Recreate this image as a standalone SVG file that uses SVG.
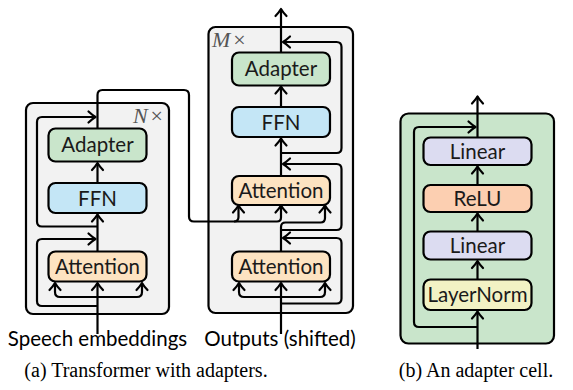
<svg xmlns="http://www.w3.org/2000/svg" width="573" height="390" viewBox="0 0 573 390">
<defs>
<marker id="ah" markerUnits="userSpaceOnUse" markerWidth="16" markerHeight="16" viewBox="-9 -8 11 16" refX="0" refY="0" orient="auto-start-reverse">
<path d="M-7,-5.5 Q-2.8,-1.6 0,0 Q-2.8,1.6 -7,5.5" fill="none" stroke="#000" stroke-width="2.2" stroke-linecap="round" stroke-linejoin="round"/>
</marker>
</defs>
<style>
.grp{fill:#f2f2f2;stroke:#000;stroke-width:2.2}
.cell{fill:#c9e5cb;stroke:#000;stroke-width:2.2}
.box{stroke:#000;stroke-width:2.2}
.adp{fill:#c9e5cb}
.ffn{fill:#c4e6f6}
.att{fill:#fde3c1}
.lin{fill:#dcdcf1}
.relu{fill:#fccfb1}
.ln{fill:#f2f2c4}
.t{font-family:Lato,"Liberation Sans",sans-serif;font-size:20.5px;fill:#1a1a1a;text-anchor:middle}
.lbl{font-family:Lato,"Liberation Sans",sans-serif;font-size:20.5px;fill:#000;text-anchor:middle}
.cap{font-family:"Liberation Serif",serif;font-size:20px;fill:#000;text-anchor:middle}
.rep{font-family:"Liberation Serif",serif;font-size:22px;fill:#555}
.c{fill:none;stroke:#000;stroke-width:2.2;stroke-linejoin:round}
.a{marker-end:url(#ah)}
.ab{marker-start:url(#ah);marker-end:url(#ah)}
</style>

<g id="encoder-block">
<rect class="grp" x="26" y="103" width="143" height="211" rx="7"/>
<text class="rep" x="163" y="123" text-anchor="end"><tspan font-style="italic">N</tspan><tspan dx="3">×</tspan></text>
</g>
<g id="decoder-block">
<rect class="grp" x="208.5" y="27" width="144.5" height="286" rx="7"/>
<text class="rep" x="212" y="47"><tspan font-style="italic">M</tspan><tspan dx="3">×</tspan></text>
</g>
<g id="adapter-cell">
<rect class="cell" x="400.5" y="113.5" width="153.5" height="230" rx="8"/>
</g>

<g id="connectors">
<!-- encoder -->
<path class="c a" d="M97.5,334 V283"/>
<path class="c ab" d="M55,283 V292 Q55,297 60,297 H137 Q142,297 142,292 V283"/>
<path class="c a" d="M97.5,306 H42 Q37,306 37,301 V244 Q37,239 42,239 H95.5"/>
<path class="c a" d="M97.5,251.5 V214.5"/>
<path class="c a" d="M97.5,226.5 H42 Q37,226.5 37,221.5 V122 Q37,117 42,117 H95.5"/>
<path class="c a" d="M97.5,183 V163"/>
<path class="c a" d="M97.5,128.5 V95 Q97.5,90 102.5,90 H184 Q189,90 189,95 V216.5 Q189,221.5 194,221.5 H277 Q281,221.5 281,217.5 V205.5"/>
<path class="c a" d="M234,221.5 Q238.5,221.5 238.5,217 V205.5"/>
<!-- decoder -->
<path class="c a" d="M281,334 V283"/>
<path class="c ab" d="M239,283 V292 Q239,297 244,297 H320 Q325,297 325,292 V283"/>
<path class="c a" d="M281,303.5 H336.5 Q341.5,303.5 341.5,298.5 V243 Q341.5,238 336.5,238 H283"/>
<path class="c a" d="M281,251.5 V227 Q281,222.5 285.5,222.5 H320.5 Q325,222.5 325,218 V205.5"/>
<path class="c a" d="M281,230 H336.5 Q341.5,230 341.5,225 V169 Q341.5,164 336.5,164 H283"/>
<path class="c a" d="M281,176 V138.5"/>
<path class="c a" d="M281,153 H336.5 Q341.5,153 341.5,148 V47 Q341.5,42 336.5,42 H283"/>
<path class="c a" d="M281,107 V86.5"/>
<path class="c a" d="M281,52.5 V9"/>
<!-- adapter cell -->
<path class="c a" d="M477.5,349 V311.5"/>
<path class="c a" d="M477.5,327 H419 Q414,327 414,322 V132 Q414,127 419,127 H475.5"/>
<path class="c a" d="M477.5,279.5 V261"/>
<path class="c a" d="M477.5,231.5 V213.5"/>
<path class="c a" d="M477.5,185 V166.5"/>
<path class="c a" d="M477.5,137.5 V96.5"/>
</g>

<g id="enc-adapter"><rect class="box adp" x="48.5" y="128.5" width="98" height="33" rx="7"/><text class="t" x="97.5" y="152">Adapter</text></g>
<g id="enc-ffn"><rect class="box ffn" x="48.5" y="183" width="98" height="30" rx="7"/><text class="t" x="97.5" y="205.5">FFN</text></g>
<g id="enc-attention"><rect class="box att" x="48.5" y="251.5" width="98" height="30" rx="7"/><text class="t" x="97.5" y="274">Attention</text></g>

<g id="dec-adapter"><rect class="box adp" x="232" y="52.5" width="98" height="33" rx="7"/><text class="t" x="281" y="76">Adapter</text></g>
<g id="dec-ffn"><rect class="box ffn" x="232" y="107" width="98" height="30" rx="7"/><text class="t" x="281" y="129.5">FFN</text></g>
<g id="dec-cross-attention"><rect class="box att" x="232" y="176" width="98" height="29" rx="7"/><text class="t" x="281" y="198">Attention</text></g>
<g id="dec-self-attention"><rect class="box att" x="232" y="251.5" width="98" height="30" rx="7"/><text class="t" x="281" y="274">Attention</text></g>

<g id="cell-linear-top"><rect class="box lin" x="423.5" y="137.5" width="108" height="27.5" rx="7"/><text class="t" x="477.5" y="158.5">Linear</text></g>
<g id="cell-relu"><rect class="box relu" x="423.5" y="185" width="108" height="27" rx="7"/><text class="t" x="477.5" y="206">ReLU</text></g>
<g id="cell-linear-bottom"><rect class="box lin" x="423.5" y="231.5" width="108" height="28" rx="7"/><text class="t" x="477.5" y="253">Linear</text></g>
<g id="cell-layernorm"><rect class="box ln" x="423.5" y="279.5" width="108" height="30.5" rx="7"/><text class="t" x="477.5" y="301.5">LayerNorm</text></g>

<g id="labels">
<text class="lbl" x="97.5" y="345.5">Speech embeddings</text>
<text class="lbl" x="280" y="345.5">Outputs (shifted)</text>
<text class="cap" x="146" y="377">(a) Transformer with adapters.</text>
<text class="cap" x="476" y="377">(b)  An adapter cell.</text>
</g>
</svg>
